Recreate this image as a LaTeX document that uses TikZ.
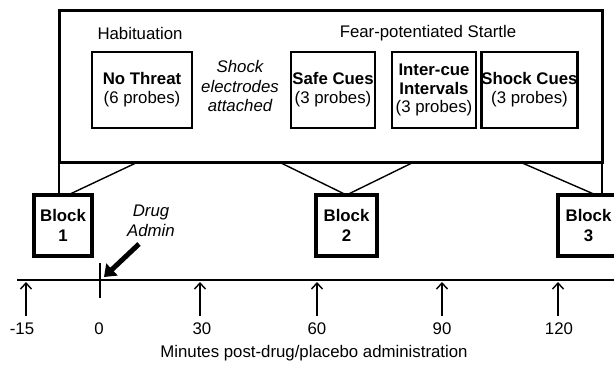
\documentclass[tikz,border=0pt]{standalone}
\usepackage{fontspec}
\setmainfont{Liberation Sans}
\usetikzlibrary{arrows.meta}
\begin{document}
\begin{tikzpicture}[x=1pt,y=-1pt,
  txt/.style={font=\fontsize{16.8}{19.8}\selectfont, inner sep=0pt, align=center},
  itxt/.style={txt, font=\fontsize{16.8}{19.8}\selectfont\itshape},
  condbox/.style={draw, line width=2.6pt, minimum height=76pt, inner sep=0pt, align=center, font=\fontsize{16.8}{19.8}\selectfont},
  blockbox/.style={draw, line width=3.3pt, minimum height=61pt, inner sep=0pt, align=center, font=\fontsize{16.8}{19.8}\selectfont\bfseries},
  conn/.style={line width=1.4pt},
  uparrow/.style={line width=1.4pt, -{Straight Barb[length=6pt,width=11pt,line width=1.4pt]}}
]
\useasboundingbox (0,0) rectangle (614,367);
\clip (0,0) rectangle (614,367);
\fill[white] (0,0) rectangle (614,367);

% outer box
\node[draw, line width=3pt, minimum width=543pt, minimum height=152pt, inner sep=0pt] (outer) at (330.5,86) {};
\node[txt] (hab) at (140,33) {Habituation};
\node[txt] (fps) at (428,33) {Fear-potentiated Startle};

\node[condbox, minimum width=100pt] (nothreat) at (142,90) {\textbf{No Threat}\\[-1pt](6 probes)};
\node[itxt] (shock) at (240,86) {Shock\\electrodes\\attached};
\node[condbox, minimum width=84pt] (safe) at (333,90) {\textbf{Safe Cues}\\[-1pt](3 probes)};
\node[condbox, minimum width=84pt] (ici) at (434,90) {\textbf{Inter-cue}\\[-1pt]\textbf{Intervals}\\[-1pt](3 probes)};
\node[condbox, minimum width=93pt] (shockcues) at (529.5,90) {\textbf{Shock Cues}\\[-1pt](3 probes)};

% blocks
\node[blockbox, minimum width=58pt] (b1) at (63,225.5) {Block\\1};
\node[blockbox, minimum width=61pt] (b2) at (346.5,225.5) {Block\\2};
\node[blockbox, minimum width=61pt] (b3) at (588.5,225.5) {Block\\3};

% connectors from outer box to blocks
\coordinate (o1) at (59,162);
\coordinate (o2) at (138,162);
\coordinate (o3) at (279,162);
\coordinate (o4) at (414,162);
\coordinate (o5) at (520,162);
\coordinate (o6) at (602,162);
\coordinate (b1a) at (59,195);
\coordinate (b1b) at (68,195);
\coordinate (b2a) at (346.5,195);
\coordinate (b3a) at (596,195);
\coordinate (b3b) at (602,195);
\draw[conn] (o1) -- (b1a);
\draw[conn] (o2) -- (b1b);
\draw[conn] (o3) -- (b2a);
\draw[conn] (o4) -- (b2a);
\draw[conn] (o5) -- (b3a);
\draw[conn] (o6) -- (b3b);

% timeline
\coordinate (tl0) at (17,280);
\coordinate (tl1) at (614,280);
\draw[line width=1.8pt] (tl0) -- (tl1);
\coordinate (tick0) at (100,263);
\coordinate (tick1) at (100,298);
\draw[line width=1.5pt] (tick0) -- (tick1);

% drug admin
\node[itxt] (drug) at (151,221) {Drug\\Admin};
\coordinate (da0) at (139,244);
\coordinate (da1) at (104,277);
\draw[line width=5pt, -{Triangle[length=11pt,width=16pt]}] (da0) -- (da1);

% up arrows and labels
\foreach \x/\nm in {26/m15, 200/p30, 317/p60, 442/p90, 558/p120}{
  \coordinate (a\nm) at (\x,316);
  \coordinate (t\nm) at (\x,282);
  \draw[uparrow] (a\nm) -- (t\nm);
}
\node[txt] (lm15) at (22,329) {-15};
\node[txt] (l0) at (99,329) {0};
\node[txt] (l30) at (202,329) {30};
\node[txt] (l60) at (317,329) {60};
\node[txt] (l90) at (442,329) {90};
\node[txt] (l120) at (559,329) {120};

\node[txt] (xlab) at (314,353) {Minutes post-drug/placebo administration};
\end{tikzpicture}
\end{document}
